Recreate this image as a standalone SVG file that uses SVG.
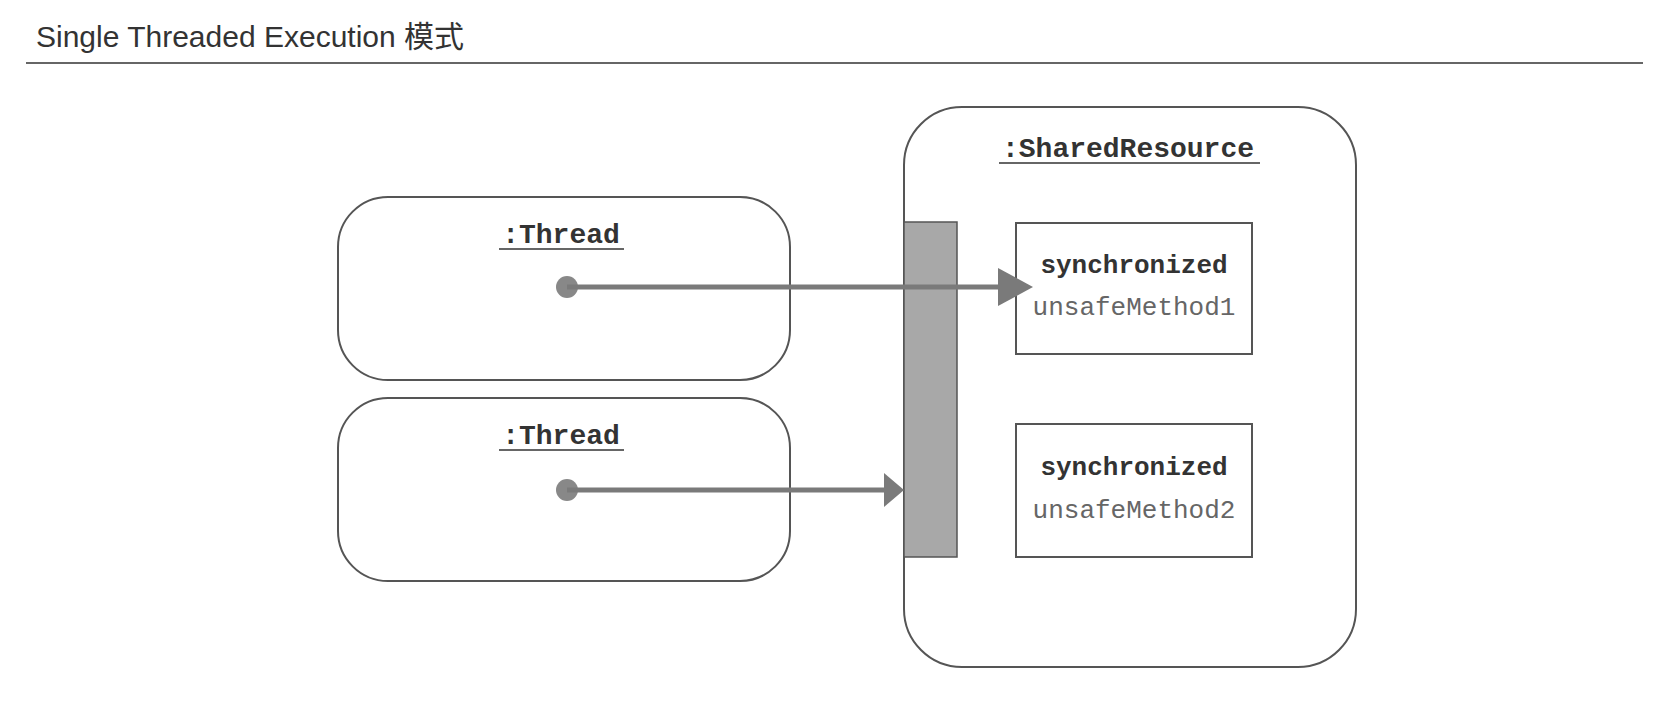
<svg xmlns="http://www.w3.org/2000/svg" width="1679" height="727" viewBox="0 0 1679 727">
<defs>
<style>
.title{font-family:"Liberation Sans","Noto Sans CJK SC",sans-serif;font-size:30px;fill:#333;}
.obj{fill:#fff;stroke:#555;stroke-width:2;}
.name{font-family:"Liberation Mono",monospace;font-size:28px;font-weight:bold;fill:#333;text-anchor:middle;}
.ul{stroke:#666;stroke-width:2;}
.kw{font-family:"Liberation Mono",monospace;font-size:26px;font-weight:bold;fill:#333;text-anchor:middle;}
.meth{font-family:"Liberation Mono",monospace;font-size:26px;fill:#666;text-anchor:middle;}
.conn{stroke:#7a7a7a;stroke-width:5;fill:none;}
.head{fill:#7a7a7a;}
.dot{fill:#888;}
</style>
</defs>
<rect width="1679" height="727" fill="#fff"/>
<g id="title">
<text class="title" x="36" y="47">Single Threaded Execution 模式</text>
<line x1="26" y1="63" x2="1643" y2="63" stroke="#666" stroke-width="2"/>
</g>
<g id="thread1">
<rect class="obj" x="338" y="197" width="452" height="183" rx="50" ry="50"/>
<text class="name" x="561" y="243">:Thread</text>
<line class="ul" x1="499" y1="249" x2="624" y2="249"/>
</g>
<g id="thread2">
<rect class="obj" x="338" y="398" width="452" height="183" rx="50" ry="50"/>
<text class="name" x="561" y="444">:Thread</text>
<line class="ul" x1="499" y1="450" x2="624" y2="450"/>
</g>
<g id="sharedResource">
<rect class="obj" x="904" y="107" width="452" height="560" rx="58" ry="58"/>
<text class="name" x="1128" y="157">:SharedResource</text>
<line class="ul" x1="999" y1="163" x2="1260" y2="163"/>
</g>
<g id="lock">
<rect x="904" y="222" width="53" height="335" fill="#a8a8a8" stroke="#555" stroke-width="1.5"/>
</g>
<g id="method1">
<rect class="obj" x="1016" y="223" width="236" height="131"/>
<text class="kw" x="1134" y="273">synchronized</text>
<text class="meth" x="1134" y="315">unsafeMethod1</text>
</g>
<g id="method2">
<rect class="obj" x="1016" y="424" width="236" height="133"/>
<text class="kw" x="1134" y="475">synchronized</text>
<text class="meth" x="1134" y="518">unsafeMethod2</text>
</g>
<g id="connectors">
<circle class="dot" cx="567" cy="287" r="11"/>
<line class="conn" x1="567" y1="287" x2="1000" y2="287"/>
<polygon class="head" points="998,268 1033,287 998,306"/>
<circle class="dot" cx="567" cy="490" r="11"/>
<line class="conn" x1="567" y1="490" x2="886" y2="490"/>
<polygon class="head" points="884,473 904,490 884,507"/>
</g>
</svg>
